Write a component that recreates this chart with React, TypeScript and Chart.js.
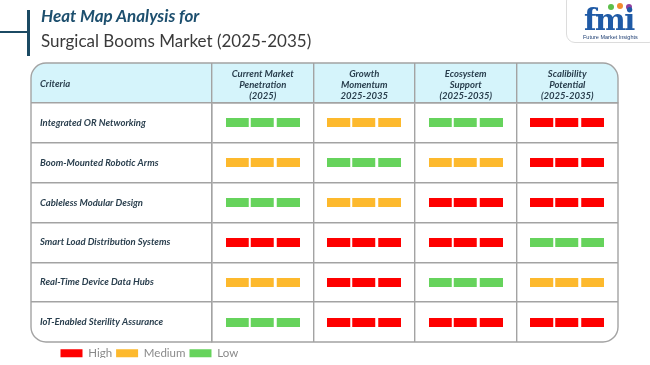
import React, { useEffect, useRef } from 'react';
import { Chart, registerables } from 'chart.js';

Chart.register(...registerables);

// ---------- data ----------
const criteria = [
  'Integrated OR Networking',
  'Boom-Mounted Robotic Arms',
  'Cableless Modular Design',
  'Smart Load Distribution Systems',
  'Real-Time Device Data Hubs',
  'IoT-Enabled Sterility Assurance',
];

const columnKeys = [
  'Current Market Penetration (2025)',
  'Growth Momentum 2025-2035',
  'Ecosystem Support (2025-2035)',
  'Scalibility Potential (2025-2035)',
];

const columnHeaderLines = [
  ['Current Market', 'Penetration', '(2025)'],
  ['Growth', 'Momentum', '2025-2035'],
  ['Ecosystem', 'Support', '(2025-2035)'],
  ['Scalibility', 'Potential', '(2025-2035)'],
];

const levels = ['High', 'Medium', 'Low'];
const levelColors = ['#fe0000', '#fdb92d', '#66d35c'];

const currentPenetration = ['Low', 'Medium', 'Low', 'High', 'Medium', 'Low'];
const growthMomentum = ['Medium', 'Low', 'Medium', 'High', 'High', 'High'];
const ecosystemSupport = ['Low', 'Medium', 'High', 'High', 'Low', 'High'];
const scalabilityPotential = ['High', 'High', 'High', 'Low', 'Medium', 'High'];
const columnValues = [currentPenetration, growthMomentum, ecosystemSupport, scalabilityPotential];

const FONT = 'Lato';
const GRID = '#a3a3a3';

function makeBlocks(color: string) {
  const c = document.createElement('canvas');
  c.width = 74;
  c.height = 9;
  const g = c.getContext('2d')!;
  g.fillStyle = color;
  [0, 25, 51].forEach((x) => g.fillRect(x, 0, 23, 9));
  return c;
}

function roundedPath(ctx: CanvasRenderingContext2D, l: number, t: number, r: number, b: number, rad: number, bottomRound = true) {
  ctx.beginPath();
  ctx.moveTo(l + rad, t);
  ctx.lineTo(r - rad, t);
  ctx.arcTo(r, t, r, t + rad, rad);
  if (bottomRound) {
    ctx.lineTo(r, b - rad);
    ctx.arcTo(r, b, r - rad, b, rad);
    ctx.lineTo(l + rad, b);
    ctx.arcTo(l, b, l, b - rad, rad);
  } else {
    ctx.lineTo(r, b);
    ctx.lineTo(l, b);
  }
  ctx.lineTo(l, t + rad);
  ctx.arcTo(l, t, l + rad, t, rad);
  ctx.closePath();
}

const tablePlugin = {
  id: 'tableFrame',
  afterLayout(chart: any) {
    const lg = chart.legend;
    if (lg) {
      lg.left = 61 - 4.5;
      lg.top = 343.5;
    }
  },
  beforeDraw(chart: any) {
    const { ctx, chartArea } = chart;
    const xs = chart.scales.x;
    const ys = chart.scales.y;
    const l = ys.left - 9;
    ctx.save();
    ctx.fillStyle = '#d5f4fb';
    roundedPath(ctx, l, xs.top, chartArea.right, chartArea.top, 15, false);
    ctx.fill();
    ctx.fillStyle = '#2a3f4e';
    ctx.font = `italic bold 9.5px ${FONT}`;
    ctx.textBaseline = 'middle';
    ctx.textAlign = 'left';
    ctx.fillText('Criteria', ys.left, (xs.top + chartArea.top) / 2 + 1);
    ctx.restore();
  },
  afterDraw(chart: any) {
    const { ctx, chartArea } = chart;
    const xs = chart.scales.x;
    const ys = chart.scales.y;
    const l = ys.left - 9;
    ctx.save();
    ctx.strokeStyle = GRID;
    ctx.lineWidth = 1.4;
    roundedPath(ctx, l, xs.top, chartArea.right, chartArea.bottom, 15, true);
    ctx.stroke();
    ctx.restore();
  },
};

export default function App() {
  const ref = useRef<HTMLCanvasElement>(null);

  useEffect(() => {
    const images = levelColors.map(makeBlocks);
    const datasets = levels.map((lv, li) => ({
      label: lv,
      data: columnValues.flatMap((vals, ci) =>
        vals
          .map((v, ri) => (v === lv ? { x: columnKeys[ci], y: criteria[ri] } : null))
          .filter((p) => p !== null)
      ),
      pointStyle: images[li],
      pointRadius: 6,
      backgroundColor: levelColors[li],
      borderColor: levelColors[li],
      borderWidth: 0,
    }));

    const chart = new Chart(ref.current!, {
      type: 'scatter',
      data: { datasets: datasets as any },
      options: {
        animation: false,
        responsive: false,
        events: [],
        layout: { padding: { left: 40, right: 32, top: 63, bottom: 7 } },
        plugins: {
          tooltip: { enabled: false },
          legend: {
            position: 'bottom',
            align: 'start',
            maxHeight: 16,
            labels: {
              boxWidth: 22,
              boxHeight: 8,
              padding: 4,
              color: '#8a8a8a',
              font: { family: FONT, size: 11.5 },
            },
          },
        },
        scales: {
          x: {
            type: 'category',
            labels: columnKeys,
            position: 'top',
            offset: true,
            afterFit: (s: any) => {
              s.height = 40;
            },
            grid: {
              offset: true,
              drawTicks: true,
              tickLength: 40,
              lineWidth: 1.4,
              color: (c: any) => (c.type === 'scale' ? 'rgba(0,0,0,0)' : GRID),
            },
            border: { display: true, color: GRID, width: 1.4 },
            ticks: {
              autoSkip: false,
              maxRotation: 0,
              minRotation: 0,
              padding: -39,
              color: '#2a3f4e',
              font: { family: FONT, size: 9.5, style: 'italic', weight: 'bold', lineHeight: 1.2 },
              callback: (_v: any, i: number) => columnHeaderLines[i],
            },
          },
          y: {
            type: 'category',
            labels: criteria,
            position: 'left',
            offset: true,
            afterFit: (s: any) => {
              s.width = 172;
            },
            grid: {
              offset: true,
              drawTicks: true,
              tickLength: 181,
              lineWidth: 1.4,
              color: (c: any) => (c.type === 'scale' ? 'rgba(0,0,0,0)' : GRID),
            },
            border: { display: true, color: GRID, width: 1.4 },
            ticks: {
              autoSkip: false,
              crossAlign: 'far',
              color: '#2a3f4e',
              font: { family: FONT, size: 9.5, style: 'italic', weight: 'bold' },
            },
          },
        },
      },
      plugins: [tablePlugin],
    });
    return () => chart.destroy();
  }, []);

  return (
    <div style={{ position: 'fixed', left: 0, top: 0, width: 650, height: 365, background: '#fff', overflow: 'hidden' }}>
      <canvas ref={ref} width={650} height={365} style={{ position: 'absolute', left: 0, top: 0 }} />
      <div style={{ position: 'absolute', left: 27, top: 10, width: 3, height: 46, background: '#1b4a63' }} />
      <div style={{ position: 'absolute', left: 0, top: 31, width: 28, height: 2, background: '#1b4a63' }} />
      <div
        style={{
          position: 'absolute', left: 41, top: 5, fontFamily: FONT, fontSize: 17,
          fontWeight: 700, fontStyle: 'italic', color: '#1d4f6e', whiteSpace: 'nowrap', lineHeight: '22px',
        }}
      >
        Heat Map Analysis for
      </div>
      <div
        style={{
          position: 'absolute', left: 41, top: 30, fontFamily: FONT, fontSize: 17,
          color: '#3a3a3a', whiteSpace: 'nowrap', lineHeight: '22px',
        }}
      >
        Surgical Booms Market (2025-2035)
      </div>
      <div
        style={{
          position: 'absolute', left: 566, top: -8, width: 92, height: 51, border: '1px solid #dcdcdc',
          borderRadius: 9, boxSizing: 'border-box',
        }}
      />
      <div style={{ position: 'absolute', left: 608, top: 4, width: 6, height: 6, borderRadius: 3, background: '#5cbf4a' }} />
      <div style={{ position: 'absolute', left: 617, top: 3, width: 6, height: 6, borderRadius: 3, background: '#f28a2e' }} />
      <div style={{ position: 'absolute', left: 626, top: 4, width: 6, height: 6, borderRadius: 3, background: '#8e3fa0' }} />
      <div
        style={{
          position: 'absolute', left: 584, top: 4, fontFamily: 'DejaVu Serif', fontWeight: 700, fontSize: 29,
          color: '#1f5aa6', letterSpacing: -1.5, lineHeight: '32px',
        }}
      >
        fmi
      </div>
      <div
        style={{
          position: 'absolute', left: 583, top: 34, fontFamily: 'Liberation Sans', fontSize: 5.5,
          color: '#1f3f73', whiteSpace: 'nowrap', lineHeight: '7px',
        }}
      >
        Future Market Insights
      </div>
    </div>
  );
}
